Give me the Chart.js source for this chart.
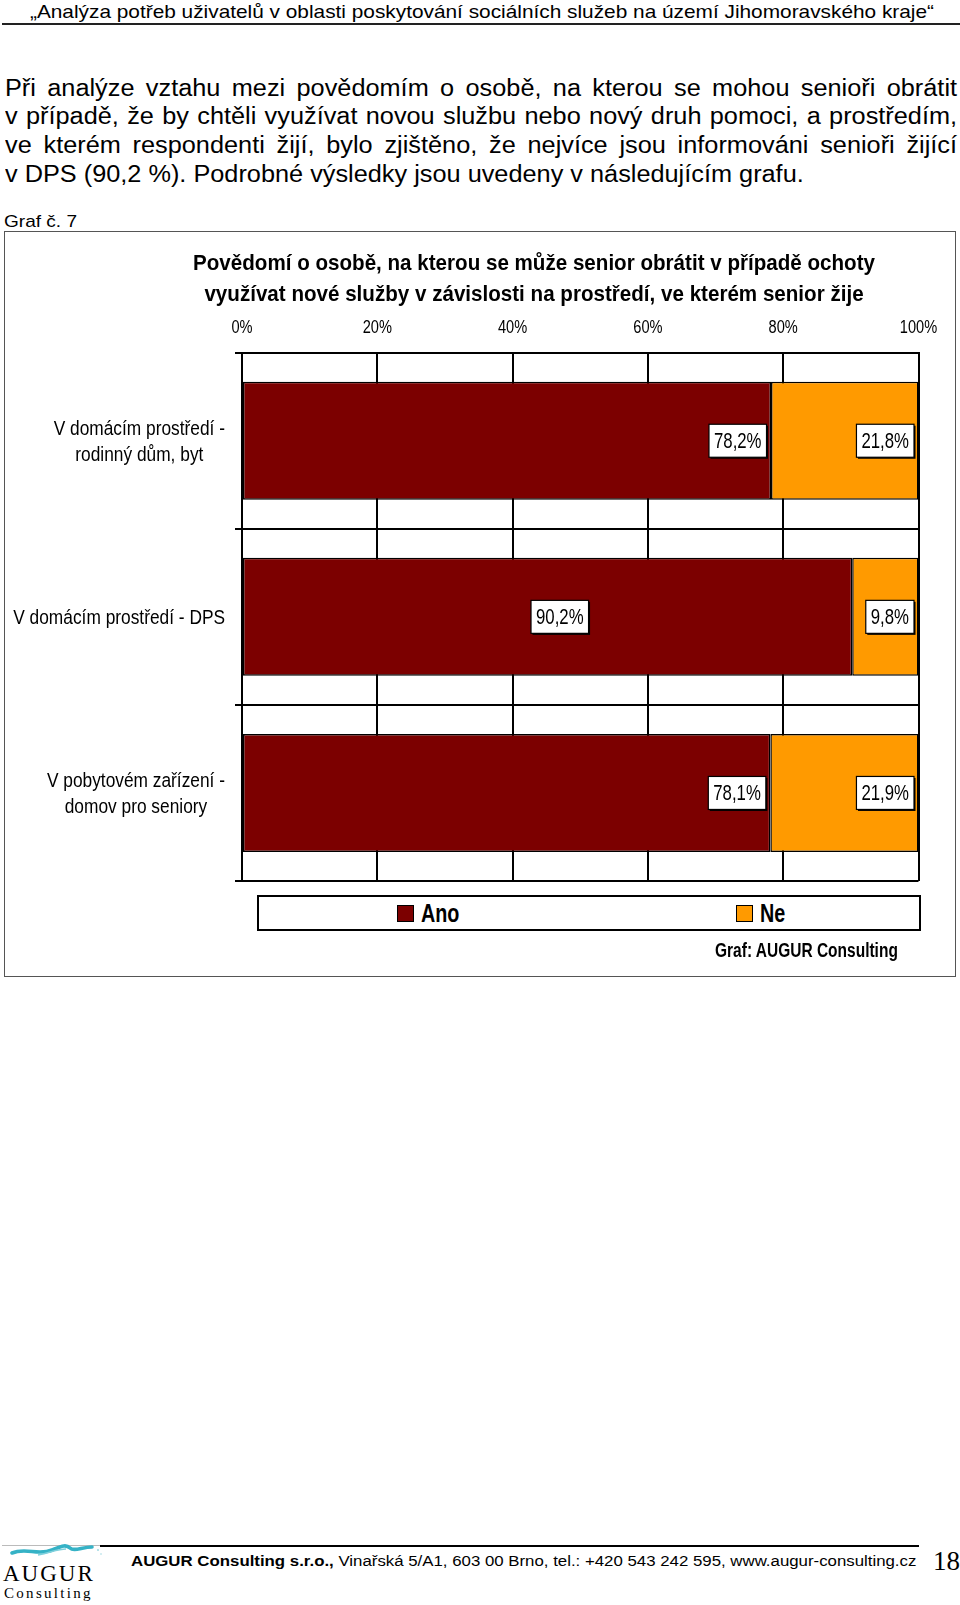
<!DOCTYPE html>
<html lang="cs">
<head>
<meta charset="utf-8">
<title>Graf č. 7</title>
<script src="https://cdn.jsdelivr.net/npm/chart.js@4.4.1/dist/chart.umd.min.js"></script>
<style>
  body { margin: 0; width: 960px; height: 1605px; position: relative; background: #fff; color: #000; overflow: hidden;
         font-family: 'Liberation Sans', Arial, sans-serif; }
  .abs { position: absolute; white-space: nowrap; }
  .wide { transform-origin: left top; }
  #header { left: 0; top: 1.2px; width: 860.7px; text-align: center; font-size: 18.6px; line-height: 22px; transform: scaleX(1.12); }
  #header-line { left: 2px; top: 23px; width: 958px; height: 2px; background: #222; }
  #para { left: 5px; top: 73.6px; width: 865.5px; font-size: 23px; line-height: 28.7px; transform: scaleX(1.1); white-space: normal; }
  #para .just { text-align: justify; text-align-last: justify; white-space: nowrap; }
  #graf-no { left: 4px; top: 211.7px; font-size: 17px; line-height: 20px; transform: scaleX(1.12); }
  #chart-box { left: 4px; top: 231px; width: 950px; height: 744px; border: 1.5px solid #555; }
  #chart { left: 5px; top: 232px; }
  #legend { left: 257px; top: 895px; width: 660px; height: 32px; border: 2px solid #000; background: #fff; }
  .legend-item { position: absolute; top: 0; height: 32px; display: flex; align-items: center; font-weight: bold; font-size: 25px; }
  .legend-item span.t { display: inline-block; transform: scaleX(0.79); transform-origin: left center; }
  .swatch { width: 15px; height: 15px; border: 1px solid #000; margin-right: 6.5px; }
  #credit { left: 715px; top: 939px; font-weight: bold; font-size: 19.5px; line-height: 22px; transform: scaleX(0.795); }
  #footer-line { left: 100px; top: 1545px; width: 819px; height: 1.5px; background: #000; }
  #footer-line2 { left: 2px; top: 1545px; width: 98px; height: 1px; background: #bbb; }
  #footer { left: 131px; top: 1551px; font-size: 15.5px; line-height: 20px; transform: scaleX(1.085); }
  #page-no { left: 933px; top: 1546px; font-family: 'Liberation Serif', 'Times New Roman', serif; font-size: 27px; line-height: 30px; }
  #logo-wave { left: 8px; top: 1541px; }
  #logo-augur { left: 3px; top: 1561px; font-family: 'Liberation Serif', serif; font-size: 23px; line-height: 26px; letter-spacing: 2px; }
  #logo-consult { left: 4px; top: 1584px; font-family: 'Liberation Serif', serif; font-size: 15px; line-height: 18px; letter-spacing: 2.3px; }
</style>
</head>
<body>

<div id="header" class="abs wide">„Analýza potřeb uživatelů v oblasti poskytování sociálních služeb na území Jihomoravského kraje“</div>
<div id="header-line" class="abs"></div>

<div id="para" class="abs wide">
  <div class="just">Při analýze vztahu mezi povědomím o osobě, na kterou se mohou senioři obrátit</div>
  <div class="just">v případě, že by chtěli využívat novou službu nebo nový druh pomoci, a prostředím,</div>
  <div class="just">ve kterém respondenti žijí, bylo zjištěno, že nejvíce jsou informováni senioři žijící</div>
  <div>v DPS (90,2 %). Podrobné výsledky jsou uvedeny v následujícím grafu.</div>
</div>

<div id="graf-no" class="abs wide">Graf č. 7</div>

<div id="chart-box" class="abs"></div>
<canvas id="chart" class="abs" width="951" height="745"></canvas>
<div id="legend" class="abs"></div>
<div id="credit" class="abs wide">Graf: AUGUR Consulting</div>

<div id="footer-line2" class="abs"></div>
<div id="footer-line" class="abs"></div>
<svg id="logo-wave" class="abs" width="96" height="20" viewBox="0 0 96 20">
  <path d="M4,12 C18,6 30,15 44,9 C54,5 58,3 62,7 C66,11 74,6 84,6" fill="none" stroke="#35b2c6" stroke-width="3.6" stroke-linecap="round"/>
  <path d="M30,14 C44,11 50,8 58,8" fill="none" stroke="#7fd0dc" stroke-width="1.5"/>
  <circle cx="90" cy="9" r="1" fill="#9fd8e2"/><circle cx="93" cy="13" r="0.8" fill="#9fd8e2"/>
</svg>
<div id="logo-augur" class="abs">AUGUR</div>
<div id="logo-consult" class="abs">Consulting</div>
<div id="footer" class="abs wide"><b>AUGUR Consulting s.r.o.,</b> Vinařská 5/A1, 603 00 Brno, tel.: +420 543 242 595, www.augur-consulting.cz</div>
<div id="page-no" class="abs">18</div>

<script>
const sans = "'Liberation Sans', Arial, sans-serif";

const chartTitle = [
    'Povědomí o osobě, na kterou se může senior obrátit v případě ochoty',
    'využívat nové služby v závislosti na prostředí, ve kterém senior žije'
];
const categories = [
    ['V domácím prostředí -', 'rodinný dům, byt'],
    'V domácím prostředí - DPS',
    ['V pobytovém zařízení -', 'domov pro seniory']
];
const seriesNames = ['Ano', 'Ne'];
const anoValues = [78.2, 90.2, 78.1];
const neValues = [21.8, 9.8, 21.9];
const xTicks = [0, 20, 40, 60, 80, 100];

// where each value box sits on its bar: 'end' = inside the end,
// a number = that fraction of the way along the bar
const labelAnchors = [
    ['end', 0.52, 'end'],
    ['end', 'end', 'end']
];

function formatPct(v) {
    return v.toFixed(1).replace('.', ',') + '%';
}

// the original uses a condensed face; squeeze Liberation Sans horizontally
function fillScaled(ctx, text, x, y, sx) {
    ctx.save();
    ctx.translate(x, y);
    ctx.scale(sx, 1);
    ctx.fillText(text, 0, 0);
    ctx.restore();
}

// title, axis tick labels and category names
const chartTexts = {
    id: 'chartTexts',
    afterDraw(chart) {
        const ctx = chart.ctx;
        const area = chart.chartArea;
        const pad = chart.options.layout.padding;
        ctx.save();
        ctx.fillStyle = '#000';

        // title
        ctx.font = 'bold 22px ' + sans;
        ctx.textAlign = 'center';
        ctx.textBaseline = 'alphabetic';
        const titleX = (pad.left + chart.width - pad.right) / 2;
        chartTitle.forEach((line, i) => {
            fillScaled(ctx, line, titleX, 38 + i * 30.5, 0.936);
        });

        // percent ticks along the top
        const xScale = chart.scales.x;
        ctx.font = '17.5px ' + sans;
        xScale.ticks.forEach(t => {
            fillScaled(ctx, t.value + '%', xScale.getPixelForValue(t.value), area.top - 19.5, 0.835);
        });

        // category names, block right-aligned, lines centred within the block
        const yScale = chart.scales.y;
        const right = area.left - 17;
        const sx = 0.845;
        ctx.font = '20.5px ' + sans;
        ctx.textBaseline = 'middle';
        chart.data.labels.forEach((label, i) => {
            const lines = Array.isArray(label) ? label : [label];
            const w = Math.max(...lines.map(l => ctx.measureText(l).width)) * sx;
            const cy = yScale.getPixelForTick(i) + 1.5;
            lines.forEach((line, j) => {
                fillScaled(ctx, line, right - w / 2, cy + (j - (lines.length - 1) / 2) * 26, sx);
            });
        });
        ctx.restore();
    }
};

// boxed value labels
const barValueLabels = {
    id: 'barValueLabels',
    afterDatasetsDraw(chart) {
        const ctx = chart.ctx;
        const sx = 0.78;
        ctx.save();
        ctx.font = '21.5px ' + sans;
        ctx.textAlign = 'center';
        ctx.textBaseline = 'middle';
        chart.data.datasets.forEach((ds, di) => {
            const meta = chart.getDatasetMeta(di);
            meta.data.forEach((bar, i) => {
                const text = formatPct(ds.data[i]);
                const w = ctx.measureText(text).width * sx + 10;
                const h = 33;
                const anchor = labelAnchors[di][i];
                const cx = anchor === 'end'
                    ? bar.x - 4.5 - w / 2
                    : bar.base + (bar.x - bar.base) * anchor;
                const cy = bar.y;
                ctx.fillStyle = '#000';
                ctx.fillRect(cx - w / 2 + 1.5, cy - h / 2 + 1.5, w, h);
                ctx.fillStyle = '#fff';
                ctx.fillRect(cx - w / 2, cy - h / 2, w, h);
                ctx.strokeStyle = '#000';
                ctx.lineWidth = 1.2;
                ctx.strokeRect(cx - w / 2, cy - h / 2, w, h);
                ctx.fillStyle = '#000';
                fillScaled(ctx, text, cx, cy + 1, sx);
            });
        });
        ctx.restore();
    }
};

const ctx = document.getElementById('chart').getContext('2d');
const chart = new Chart(ctx, {
    type: 'bar',
    data: {
        labels: categories,
        datasets: [
            {
                label: seriesNames[0],
                data: anoValues,
                backgroundColor: '#7c0000',
                borderColor: '#000',
                borderWidth: 1.5,
                borderSkipped: false,
                barPercentage: 0.67,
                categoryPercentage: 1
            },
            {
                label: seriesNames[1],
                data: neValues,
                backgroundColor: '#ff9a00',
                borderColor: '#000',
                borderWidth: 1.5,
                borderSkipped: false,
                barPercentage: 0.67,
                categoryPercentage: 1
            }
        ]
    },
    options: {
        indexAxis: 'y',
        responsive: false,
        animation: false,
        layout: { padding: { left: 144.5, right: 37.5, top: 84.7, bottom: 96 } },
        plugins: {
            legend: { display: false },
            tooltip: { enabled: false },
            title: { display: false }
        },
        scales: {
            x: {
                position: 'top',
                stacked: true,
                min: 0,
                max: 100,
                afterBuildTicks: s => { s.ticks = xTicks.map(v => ({ value: v })); },
                afterFit: s => { s.height = 36; },
                ticks: { display: false },
                grid: { color: '#000', lineWidth: 2, drawTicks: false },
                border: { color: '#000', width: 2 }
            },
            y: {
                stacked: true,
                ticks: { display: false },
                afterFit: s => { s.width = 92.5; },
                grid: { color: '#000', lineWidth: 2, tickLength: 7, offset: true },
                border: { color: '#000', width: 2 }
            }
        }
    },
    plugins: [chartTexts, barValueLabels]
});

// legend box built from the chart's datasets
const legendBox = document.getElementById('legend');
const legendLefts = [138, 477];
chart.data.datasets.forEach((ds, i) => {
    const item = document.createElement('div');
    item.className = 'legend-item';
    item.style.left = legendLefts[i] + 'px';
    item.innerHTML = `<span class="swatch" style="background:${ds.backgroundColor}"></span><span class="t">${ds.label}</span>`;
    legendBox.appendChild(item);
});
</script>
</body>
</html>
